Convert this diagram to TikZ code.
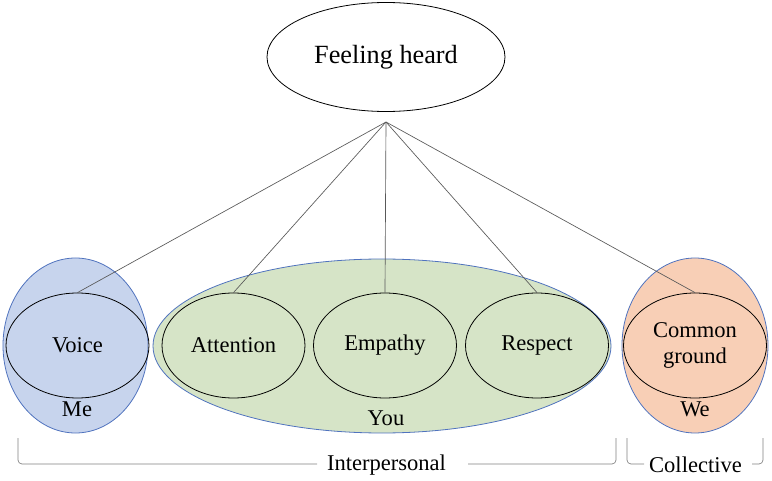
\documentclass[tikz,border=0pt]{standalone}
\usepackage{fontspec}
\setmainfont{Liberation Serif}
\usetikzlibrary{shapes.geometric}
\definecolor{meblue}{RGB}{199,212,237}
\definecolor{youtgreen}{RGB}{214,228,199}
\definecolor{weorange}{RGB}{248,207,182}
\definecolor{rimblue}{RGB}{80,115,190}

\begin{document}
\begin{tikzpicture}[x=0.75pt,y=-0.75pt,
  part/.style={draw,ellipse,inner sep=0pt,line width=0.6pt,minimum width=107.25pt,minimum height=78.75pt,align=center,font=\fontsize{16.9}{19}\selectfont},
  circle group/.style={draw=rimblue,ellipse,inner sep=0pt,line width=0.6pt},
  grouptag/.style={inner sep=0pt,font=\fontsize{16.9}{19}\selectfont},
  spoke/.style={draw=black!65,line width=0.5pt},
  brace/.style={draw=black!50,line width=0.5pt,rounded corners=3pt}]
  \useasboundingbox (0,0) rectangle (772,481);

  % top node
  \node[draw,ellipse,inner sep=0pt,line width=0.6pt,minimum width=178.5pt,minimum height=81.75pt,font=\fontsize{19.7}{22}\selectfont]
    at (386,57) (FH) {Feeling heard};
  \coordinate (hub) at (386,122);

  % the three groups
  \node[circle group,fill=meblue,minimum width=108.75pt,minimum height=131.25pt] at (75.5,345.5) (ME) {};
  \node[circle group,fill=youtgreen,minimum width=343.5pt,minimum height=130.5pt] at (382,346) (YOU) {};
  \node[circle group,fill=weorange,minimum width=109.5pt,minimum height=131.25pt] at (695,345.5) (WE) {};

  \node[part] at (77.5,345.5) (VO) {Voice};
  \node[part] at (233.5,345.5) (AT) {Attention};
  \node[part] at (385,345.5) (EM) {Empathy};
  \node[part] at (537,345.5) (RE) {Respect};
  \node[part] at (695,345.5) (CG) {Common\\ground};

  \node[grouptag] at (77,409) (MEt) {Me};
  \node[grouptag] at (386,418) (YOUt) {You};
  \node[grouptag] at (695,409) (WEt) {We};

  % spokes
  \foreach \n in {VO,AT,EM,RE,CG}
    \draw[spoke] (hub) -- (\n.north);

  % brackets below
  \node[grouptag] at (386.5,465) (IP) {Interpersonal};
  \node[grouptag] at (695.5,465) (CO) {Collective};
  \coordinate (IPa) at (18,438);
  \coordinate (IPb) at (616,438);
  \coordinate (IPl) at (317,464);
  \coordinate (IPr) at (468,464);
  \coordinate (COa) at (627,438);
  \coordinate (COb) at (763,438);
  \coordinate (COl) at (644,464);
  \coordinate (COr) at (752,464);
  \draw[brace] (IPa) |- (IPl);
  \draw[brace] (IPr) -| (IPb);
  \draw[brace] (COa) |- (COl);
  \draw[brace] (COr) -| (COb);
\end{tikzpicture}
\end{document}
